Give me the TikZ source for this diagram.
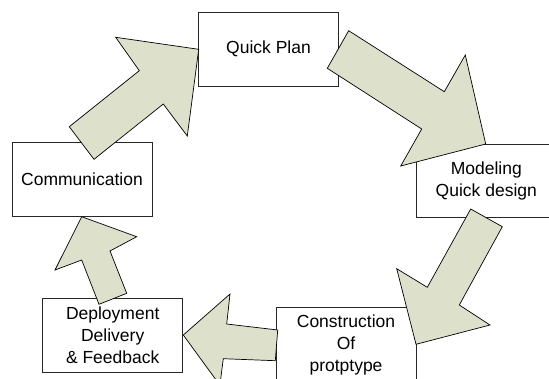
\documentclass[tikz,border=0pt]{standalone}
\usepackage{fontspec}
\setmainfont{Liberation Sans}
\definecolor{arrowfill}{RGB}{221,224,203}
\tikzset{
  stagebox/.style={draw=black!85, line width=0.8pt, fill=white, minimum width=140pt, minimum height=73.5pt, inner sep=0pt, align=center, font=\fontsize{17.5}{22}\selectfont},
  blockarrow/.style={draw=black, line width=0.7pt, fill=arrowfill, line join=miter}
}
\begin{document}
\begin{tikzpicture}[x=1pt,y=-1pt]
\useasboundingbox (0,0) rectangle (549,378);
\clip (0,0) rectangle (549,378);
% boxes
\node[stagebox] (qp) at (268.5,49.2) {Quick Plan};
\node[stagebox] (comm) at (82,179.3) {Communication};
\node[stagebox] (model) at (486.3,180.8) {Modeling\\Quick design};
\node[stagebox] (cons) at (346,344.5) {Construction\\Of\\protptype};
\node[stagebox] (dep) at (112.7,335.5) {Deployment\\Delivery\\\& Feedback};
% block arrows
\draw[blockarrow] (69.3,126.7) -- (139.3,70.7) -- (115.7,37.3) -- (198.7,49.3) -- (187.3,136) -- (163.3,104) -- (94,159.3) -- cycle;
\draw[blockarrow] (348.7,30.7) -- (444.3,91.7) -- (465.3,55) -- (485.7,144) -- (400.7,166) -- (421.7,129) -- (327.3,68.3) -- cycle;
\draw[blockarrow] (470.7,209) -- (502.3,226.7) -- (459.3,305) -- (490,325) -- (416,344.3) -- (396.7,268.7) -- (427.3,287.3) -- cycle;
\draw[blockarrow] (277.7,330) -- (226.7,324) -- (230,294) -- (183.3,335) -- (219.9,385.2) -- (223.3,358.7) -- (275.3,360.7) -- cycle;
\draw[blockarrow] (99,304.3) -- (81.7,260) -- (55,270) -- (81.7,216.7) -- (136.7,236.7) -- (110,251) -- (126.7,293.3) -- cycle;
\end{tikzpicture}
\end{document}
